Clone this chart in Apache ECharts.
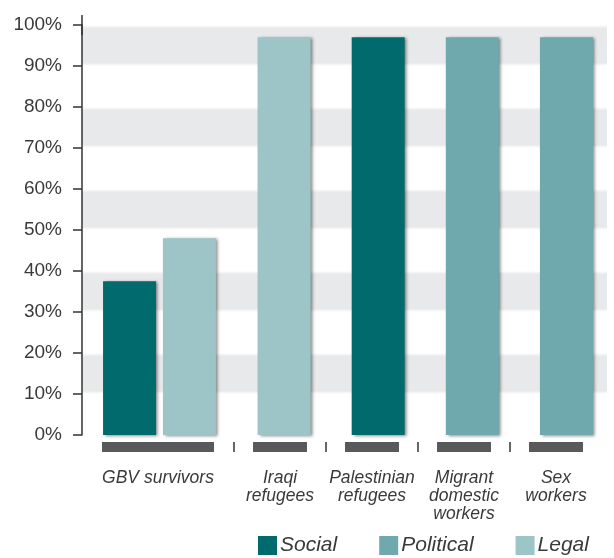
<!DOCTYPE html>
<html>
<head>
<meta charset="utf-8">
<script src="https://cdn.jsdelivr.net/npm/echarts@6/dist/echarts.min.js"></script>
<style>
  html, body { margin: 0; padding: 0; background: #ffffff; }
  #chart { width: 614px; height: 558px; }
</style>
</head>
<body>
<div id="chart"></div>
<script>
// Groups and the share (%) of each type of barrier
const categories = ['GBV survivors', 'Iraqi\nrefugees', 'Palestinian\nrefugees', 'Migrant\ndomestic\nworkers', 'Sex\nworkers'];
const social    = [37.5, null, 97, null, null];
const political = [null, null, null, 97, 97];
const legal     = [48, 97, null, null, null];
const yTicks = { min: 0, max: 100, step: 10 };

const COLORS = { Social: '#006a6d', Political: '#6fa9ad', Legal: '#9dc4c6' };
const FONT = 'Liberation Sans';
const TEXT = '#3a3a3a';
const BASE = '#58595b';

const shadow = {
  shadowColor: 'rgba(0,0,0,0.45)',
  shadowBlur: 3,
  shadowOffsetX: 2,
  shadowOffsetY: 1
};

// soft-edged grey band for the alternating background stripes
const band = {
  type: 'linear', x: 0, y: 0, x2: 0, y2: 1,
  colorStops: [
    { offset: 0, color: 'rgba(232,233,235,0)' },
    { offset: 0.08, color: '#e8e9eb' },
    { offset: 0.92, color: '#e8e9eb' },
    { offset: 1, color: 'rgba(232,233,235,0)' }
  ]
};

const catLabel = {
  show: true,
  fontFamily: FONT,
  fontStyle: 'italic',
  fontSize: 17.5,
  lineHeight: 18,
  color: TEXT,
  margin: 17,
  interval: 0
};

function barSeries(name, data, xi, extra) {
  return Object.assign({
    type: 'bar',
    name: name,
    xAxisIndex: xi,
    yAxisIndex: xi,
    data: data,
    barWidth: 53,
    itemStyle: Object.assign({ color: COLORS[name] }, shadow),
    emphasis: { disabled: true },
    animation: false
  }, extra || {});
}

// dark base block under each group, with the group name beneath it
function baseAxis(gridIndex, data, blockWidth, separators) {
  return {
    type: 'category', gridIndex: gridIndex, data: data,
    axisLine: { show: false },
    axisTick: { show: true, inside: true, alignWithLabel: true, length: 10, lineStyle: { width: blockWidth, color: BASE } },
    splitLine: { show: separators, showMaxLine: false, lineStyle: { color: '#333333', width: 1.5 } },
    axisLabel: catLabel
  };
}

const first = categories.slice(0, 1);
const rest = categories.slice(1);

const chart = echarts.init(document.getElementById('chart'), null, { renderer: 'canvas' });

chart.setOption({
  backgroundColor: '#ffffff',
  animation: false,
  grid: [
    { left: 82, top: 25, width: 155, height: 410 },    // GBV group
    { left: 237, top: 25, width: 376.5, height: 410 }, // single-bar groups
    { left: 234, top: 442, width: 368, height: 10 },   // base strip under the four groups
    { left: 82, top: 25, width: 525, height: 410 },    // background stripes
    { left: 80, top: 442, width: 156, height: 10 }     // base strip under the GBV group
  ],
  legend: {
    data: ['Social', 'Political', 'Legal'],
    left: 258,
    top: 535,
    icon: 'rect',
    itemWidth: 19,
    itemHeight: 19,
    itemGap: 42,
    padding: 0,
    selectedMode: false,
    itemStyle: { shadowBlur: 0, shadowOffsetX: 0, shadowOffsetY: 0, shadowColor: 'transparent' },
    textStyle: { fontFamily: FONT, fontStyle: 'italic', fontSize: 21, color: TEXT, padding: [2, 0, 0, -2] }
  },
  xAxis: [
    {
      type: 'category', gridIndex: 0, data: first,
      axisLine: { show: false }, axisTick: { show: false }, axisLabel: { show: false }
    },
    {
      type: 'category', gridIndex: 1, data: rest,
      axisLine: { show: false }, axisTick: { show: false }, axisLabel: { show: false }
    },
    baseAxis(2, rest, 54, true),
    { type: 'value', gridIndex: 3, show: false },
    baseAxis(4, first, 112, false)
  ],
  yAxis: [
    {
      type: 'value', gridIndex: 0, min: yTicks.min, max: yTicks.max, interval: yTicks.step,
      axisLine: {
        show: true,
        lineStyle: { color: '#333333', width: 1.5 },
        symbol: ['none', 'rect'],
        symbolSize: [1.5, 20]
      },
      axisTick: { show: true, length: 9, lineStyle: { color: '#333333', width: 1.5 } },
      splitLine: { show: false },
      axisLabel: { fontFamily: FONT, fontSize: 19, color: TEXT, margin: 20, formatter: '{value}%' }
    },
    {
      type: 'value', gridIndex: 1, min: yTicks.min, max: yTicks.max, interval: yTicks.step, show: false
    },
    { type: 'value', gridIndex: 2, show: false },
    {
      type: 'value', gridIndex: 3, min: yTicks.min, max: yTicks.max, interval: yTicks.step,
      axisLine: { show: false }, axisTick: { show: false }, axisLabel: { show: false },
      splitLine: { show: false },
      splitArea: { show: true, areaStyle: { color: ['rgba(255,255,255,0)', band] } }
    },
    { type: 'value', gridIndex: 4, show: false }
  ],
  series: [
    barSeries('Social', social.slice(0, 1), 0, { barGap: '13%' }),
    barSeries('Legal', legal.slice(0, 1), 0, { barGap: '13%' }),
    barSeries('Social', social.slice(1), 1, { stack: 'single' }),
    barSeries('Political', political.slice(1), 1, { stack: 'single' }),
    barSeries('Legal', legal.slice(1), 1, { stack: 'single' })
  ]
});
</script>
</body>
</html>
